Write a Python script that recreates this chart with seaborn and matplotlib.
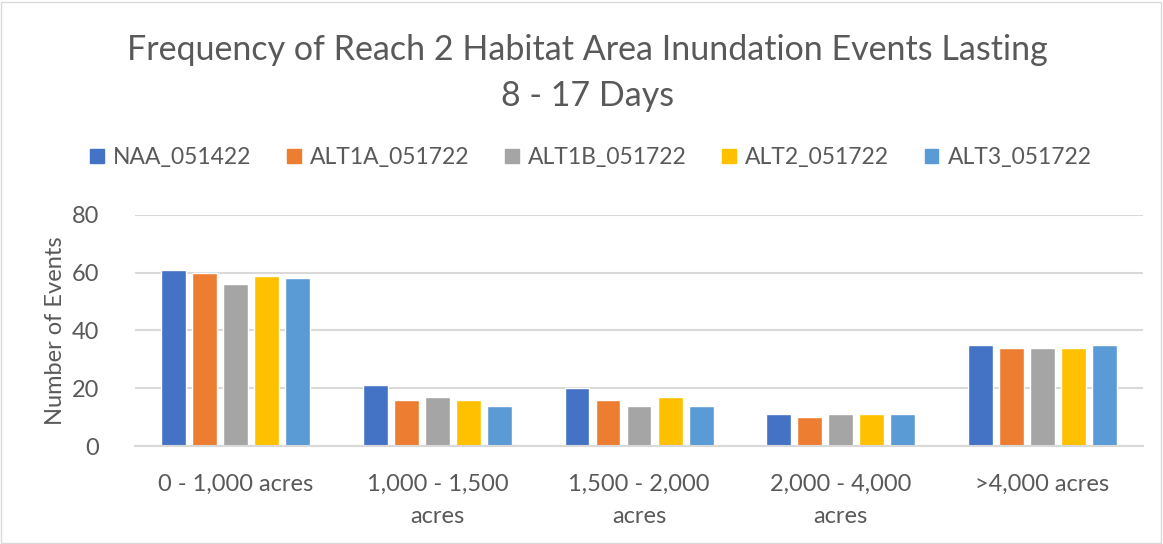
import pandas as pd
import matplotlib.pyplot as plt
import seaborn as sns
from matplotlib.patches import Rectangle

categories = ['0 - 1,000 acres', '1,000 - 1,500\nacres', '1,500 - 2,000\nacres',
              '2,000 - 4,000\nacres', '>4,000 acres']
series = ['NAA_051422', 'ALT1A_051722', 'ALT1B_051722', 'ALT2_051722', 'ALT3_051722']
naa = [61, 21, 20, 11, 35]
alt1a = [60, 16, 16, 10, 34]
alt1b = [56, 17, 14, 11, 34]
alt2 = [59, 16, 17, 11, 34]
alt3 = [58, 14, 14, 11, 35]
colors = ['#4472C4', '#ED7D31', '#A5A5A5', '#FFC000', '#5B9BD5']

rows = []
for name, vals in zip(series, [naa, alt1a, alt1b, alt2, alt3]):
    for cat, v in zip(categories, vals):
        rows.append({'cat': cat, 'series': name, 'events': v})
df = pd.DataFrame(rows)

sns.set_style('white')
plt.rcParams['font.family'] = ['Lato', 'DejaVu Sans']
txt = '#595959'

fig = plt.figure(figsize=(11.63, 5.44), dpi=100)
ax = fig.add_axes([0.116, 0.18, 0.867, 0.425])
sns.barplot(data=df, x='cat', y='events', hue='series', palette=colors,
            width=0.77, gap=0.2, ax=ax, legend=False, saturation=1)

ax.set_ylim(0, 80)
ax.set_yticks([0, 20, 40, 60, 80])
ax.yaxis.grid(True, color='#D9D9D9', linewidth=1.5)
ax.set_axisbelow(True)
for s in ['top', 'right', 'left']:
    ax.spines[s].set_visible(False)
ax.spines['bottom'].set_color('#D9D9D9')
ax.spines['bottom'].set_linewidth(1.5)
ax.tick_params(axis='both', length=0, labelsize=17, colors=txt)
ax.tick_params(axis='x', pad=20)
ax.tick_params(axis='y', pad=26)
for lbl in ax.get_xticklabels():
    lbl.set_linespacing(1.65)
ax.set_xlabel('')
ax.set_ylabel('Number of Events', fontsize=17, color=txt, labelpad=4)
ax.set_xlim(-0.5, 4.5)

fig.text(0.505, 0.908, 'Frequency of Reach 2 Habitat Area Inundation Events Lasting',
         ha='center', va='center', fontsize=24.5, color=txt)
fig.text(0.505, 0.823, '8 - 17 Days', ha='center', va='center', fontsize=24.5, color=txt)

handles = [Rectangle((0, 0), 1, 1, color=c) for c in colors]
fig.legend(handles, series, loc='center', bbox_to_anchor=(0.508, 0.71), ncol=5,
           frameon=False, fontsize=16.5, labelcolor=txt, handlelength=0.6,
           handleheight=0.6, handletextpad=0.4, columnspacing=1.55)

fig.patches.append(Rectangle((0.001, 0.002), 0.997, 0.995, transform=fig.transFigure,
                             fill=False, edgecolor='#D9D9D9', linewidth=1))
fig.savefig('out.png', dpi=100)
